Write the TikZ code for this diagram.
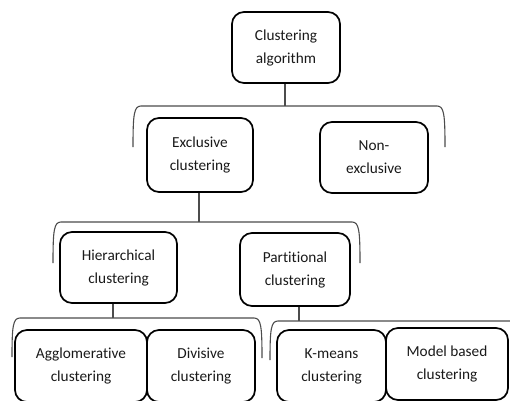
\documentclass[tikz,border=0pt]{standalone}
\usepackage{fontspec}
\setmainfont{Carlito}[Ligatures=CommonOff]
\begin{document}
\begin{tikzpicture}[x=1pt,y=-1pt,
  box/.style={draw=black,line width=1.7pt,rounded corners=12pt,align=center,inner sep=0pt,
    font=\fontsize{15.3}{23}\selectfont,text=black!90},
  conn/.style={draw=black!70,line width=1.1pt}]
\useasboundingbox (0,0) rectangle (510,400);
\clip (0,0) rectangle (510,400);
% boxes
\node[box,minimum width=108pt,minimum height=71pt] (root) at (286,47.5) {Clustering\\algorithm};
\node[box,minimum width=106pt,minimum height=74pt] (excl) at (200,155) {Exclusive\\clustering};
\node[box,minimum width=108pt,minimum height=71pt] (nonex) at (374,157.5) {Non-\\exclusive};
\node[box,minimum width=117pt,minimum height=71pt] (hier) at (118.5,267.5) {Hierarchical\\clustering};
\node[box,minimum width=110pt,minimum height=73pt] (part) at (295,269.5) {Partitional\\clustering};
\node[box,minimum width=132pt,minimum height=72pt] (aggl) at (81,366) {Agglomerative\\clustering};
\node[box,minimum width=108pt,minimum height=72pt] (div) at (201,366) {Divisive\\clustering};
\node[box,minimum width=109pt,minimum height=72pt] (kmeans) at (331.5,366) {K-means\\clustering};
\node[box,minimum width=122pt,minimum height=72pt] (model) at (447,364) {Model based\\clustering};
% bracket junction points
\coordinate (b1) at (285,106);
\coordinate (b2) at (199,222);
\coordinate (b3) at (113,318);
\coordinate (b4) at (299,321);
% brackets
\draw[conn] (133,147) .. controls (133,114) and (134,106) .. (141,106) -- (b1) -- (437,106)
  .. controls (444,106) and (445,114) .. (445,147);
\draw[conn] (53,263) .. controls (53,230) and (54,222) .. (61,222) -- (b2) -- (352,222)
  .. controls (359,222) and (360,230) .. (360,263);
\draw[conn] (12,357) .. controls (12,326) and (13,318) .. (20,318) -- (b3) -- (254,318)
  .. controls (261,318) and (262,326) .. (262,358);
\draw[conn] (270,360) .. controls (270,329) and (271,321) .. (278,321) -- (b4) -- (515,321);
% connectors
\draw[conn] (b1 |- root.south) -- (b1);
\draw[conn] (b2 |- excl.south) -- (b2);
\draw[conn] (b3 |- hier.south) -- (b3);
\draw[conn] (b4 |- part.south) -- (b4);
\end{tikzpicture}
\end{document}
